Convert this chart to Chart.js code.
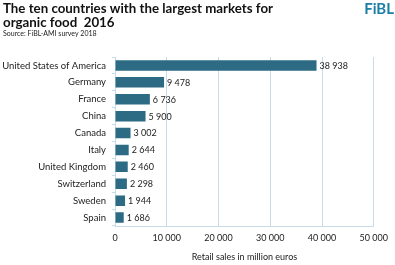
<!DOCTYPE html>
<html>
<head>
<meta charset="utf-8">
<script src="https://cdn.jsdelivr.net/npm/chart.js@4"></script>
<style>
  html, body { margin: 0; padding: 0; background: #fff; }
  #wrap { width: 395px; height: 265px; position: relative; }
</style>
</head>
<body>
<div id="wrap"><canvas id="c" width="395" height="265"></canvas></div>
<script>
const countries = ["United States of America", "Germany", "France", "China", "Canada", "Italy", "United Kingdom", "Switzerland", "Sweden", "Spain"];
const sales = [38938, 9478, 6736, 5900, 3002, 2644, 2460, 2298, 1944, 1686];
const titleLines = ["The ten countries with the largest markets for", "organic food  2016"];
const sourceText = "Source: FiBL-AMI survey 2018";
const axisTitle = "Retail sales in million euros";
const logoText = "FiBL";

const FONT = "Lato, 'Open Sans', sans-serif";
const fmtSp = v => String(Math.round(v)).replace(/\B(?=(\d{3})+(?!\d))/g, " ");

const headerPlugin = {
  id: "header",
  afterDraw(chart) {
    const ctx = chart.ctx;
    ctx.save();
    ctx.fillStyle = "#111";
    ctx.textBaseline = "alphabetic";
    ctx.textAlign = "left";
    ctx.font = "bold 13.3px " + FONT;
    ctx.fillText(titleLines[0], 3, 13);
    ctx.fillText(titleLines[1], 3, 27);
    ctx.font = "7px " + FONT;
    ctx.fillStyle = "#222";
    ctx.fillText(sourceText, 3, 36);
    ctx.font = "bold 15px " + FONT;
    ctx.fillStyle = "#1b7ea6";
    ctx.textAlign = "right";
    ctx.fillText(logoText, 394, 14);
    ctx.restore();
  }
};

const labelPlugin = {
  id: "barLabels",
  afterDatasetsDraw(chart) {
    const ctx = chart.ctx;
    const meta = chart.getDatasetMeta(0);
    ctx.save();
    ctx.font = "9px " + FONT;
    ctx.fillStyle = "#222";
    ctx.textAlign = "left";
    ctx.textBaseline = "middle";
    meta.data.forEach((bar, i) => {
      ctx.fillText(fmtSp(sales[i]), bar.x + 3, bar.y + 0.5);
    });
    ctx.restore();
  }
};

new Chart(document.getElementById("c"), {
  type: "bar",
  data: {
    labels: countries,
    datasets: [{
      data: sales,
      backgroundColor: "#2d6a84",
      borderWidth: 0,
      barPercentage: 0.62,
      categoryPercentage: 1.0
    }]
  },
  options: {
    indexAxis: "y",
    responsive: false,
    animation: false,
    devicePixelRatio: 1,
    layout: { padding: { top: 57, right: 21, left: 0, bottom: 0 } },
    plugins: { legend: { display: false }, tooltip: { enabled: false }, title: { display: false } },
    scales: {
      x: {
        min: 0, max: 50000,
        ticks: { stepSize: 10000, callback: v => fmtSp(v), color: "#222", font: { family: FONT, size: 9 }, padding: 7, maxRotation: 0 },
        grid: { color: "#c9dce6", lineWidth: 1, drawTicks: false },
        border: { color: "#c9dce6" },
        title: { display: true, text: axisTitle, color: "#222", font: { family: FONT, size: 9 }, padding: { top: 7, bottom: 3 } },
        afterFit(s) { s.height = 39; }
      },
      y: {
        ticks: { color: "#222", font: { family: FONT, size: 9.5 }, padding: 6 },
        grid: { drawOnChartArea: false, drawTicks: true, tickLength: 3, color: "#c9dce6", offset: true },
        border: { color: "#c9dce6" },
        afterFit(s) { s.width = 115; }
      }
    }
  },
  plugins: [headerPlugin, labelPlugin]
});
</script>
</body>
</html>
